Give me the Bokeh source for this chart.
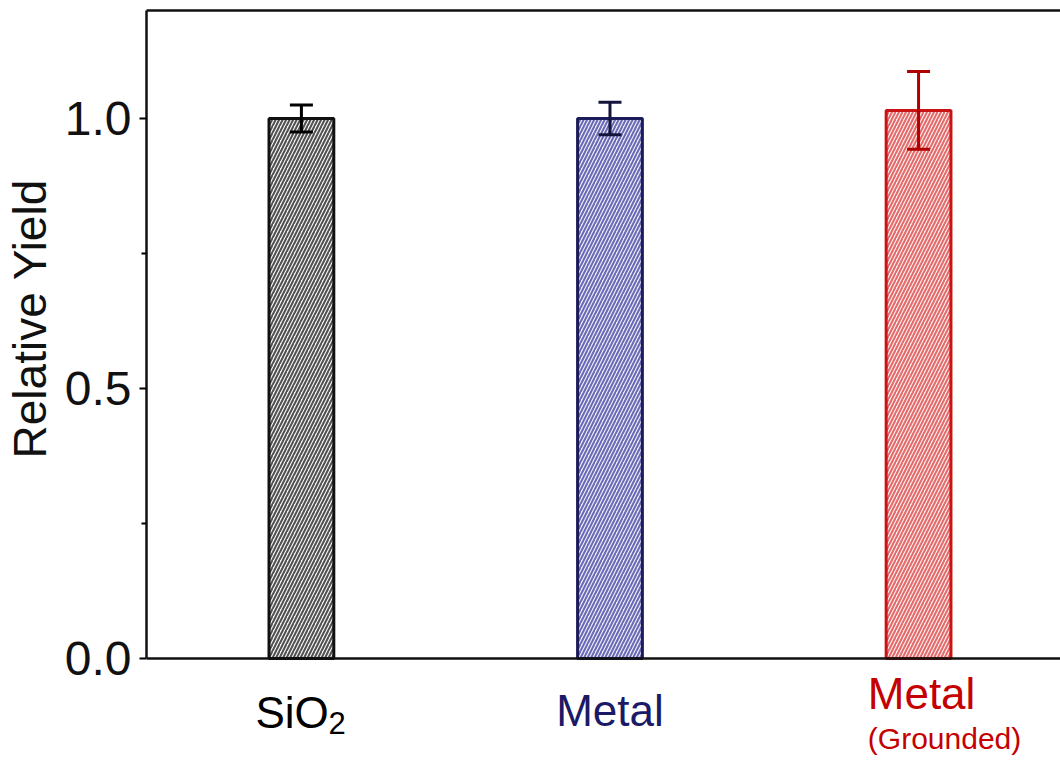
import math
from bokeh.plotting import figure
from bokeh.models import (ColumnDataSource, LinearAxis, FixedTicker, Span,
                          Whisker, TeeHead, Range1d)
from bokeh.core.properties import value
from bokeh.embed import file_html
from bokeh.resources import INLINE

# ---- data ----
categories = ["SiO2", "Metal", "Metal (Grounded)"]
xpos = [1, 2, 3]
yield_values = [1.0, 1.0, 1.015]
yield_errors = [0.025, 0.03, 0.072]
y_ticks = [0.0, 0.5, 1.0]
y_tick_labels = ["0.0", "0.5", "1.0"]
y_minor_ticks = [0.25, 0.75]

# category label pieces
label_texts = ["SiO", "2", "Metal", "Metal", "(Grounded)"]
label_cat = [0, 0, 1, 2, 2]

outline_colors = ["#111111", "#1c1c5a", "#c81414"]
fill_colors = ["#f4f4f4", "#eeeefa", "#fdeeee"]
hatch_colors = ["#505050", "#6a6ab4", "#e46a6a"]
err_colors = ["#000000", "#14143c", "#b00000"]
label_colors = ["#000000", "#1a1a66", "#c40000"]

FONT = "Liberation Sans"

Y_BOTTOM = -0.2019
p = figure(width=1060, height=767, output_backend="svg", toolbar_location=None,
           x_range=Range1d(0.498, 3.46), y_range=Range1d(Y_BOTTOM, 1.2),
           min_border_left=145, min_border_top=10, min_border_right=0,
           min_border_bottom=0)
p.outline_line_color = None
p.grid.visible = False
p.background_fill_color = "white"
p.xaxis.visible = False

src = ColumnDataSource(dict(x=xpos, top=yield_values, lc=outline_colors,
                            fc=fill_colors, hc=hatch_colors))

p.vbar(x="x", top="top", bottom=0, width=0.21, source=src,
       fill_color="fc", line_color="lc", line_width=3,
       hatch_pattern="/", hatch_color="hc", hatch_scale=7, hatch_weight=2.0)

for i in range(3):
    s = ColumnDataSource(dict(base=[xpos[i]], upper=[yield_values[i] + yield_errors[i]],
                              lower=[yield_values[i] - yield_errors[i]]))
    w = Whisker(base="base", upper="upper", lower="lower", source=s,
                dimension="height", line_color=err_colors[i], line_width=3,
                level="overlay",
                upper_head=TeeHead(size=23, line_color=err_colors[i], line_width=3),
                lower_head=TeeHead(size=23, line_color=err_colors[i], line_width=3))
    p.add_layout(w)

# x axis line at y = 0
p.add_layout(Span(location=0, dimension="width", line_color="#111111", line_width=2.5))

# y axis
ya = p.yaxis[0]
ya.bounds = (0, 1.2)
ya.ticker = FixedTicker(ticks=y_ticks, minor_ticks=y_minor_ticks)
ya.major_label_overrides = {t: l for t, l in zip(y_ticks, y_tick_labels)}
ya.major_label_text_font = FONT
ya.major_label_text_font_size = "48px"
ya.major_label_text_color = "#111111"
ya.major_tick_in = 0
ya.major_tick_out = 7
ya.minor_tick_in = 0
ya.minor_tick_out = 5
ya.major_tick_line_width = 2
ya.minor_tick_line_width = 2
ya.axis_line_width = 2.5
ya.axis_line_color = "#111111"
ya.major_label_standoff = 8
ya.axis_label = "\u00a0" * 11 + "Relative Yield"
ya.axis_label_text_font = FONT
ya.axis_label_text_font_size = "46px"
ya.axis_label_text_font_style = "normal"
ya.axis_label_text_color = "#111111"
ya.axis_label_standoff = 6

# top border
top_axis = LinearAxis(ticker=FixedTicker(ticks=[]), axis_line_width=2.5,
                      axis_line_color="#111111", major_tick_line_color=None,
                      minor_tick_line_color=None)
p.add_layout(top_axis, "above")

# category labels (inside the extended frame, below y = 0)
lab_x = [xpos[c] for c in label_cat]
lab_y = [-0.100, -0.1204, -0.0963, -0.0648, -0.148]
lab_xoff = [-46, 27, 0, 3, 26]
lab_align = ["left", "left", "center", "center", "center"]
lab_size = ["44px", "31px", "44px", "44px", "30px"]
lab_color = [label_colors[c] for c in label_cat]
lsrc = ColumnDataSource(dict(x=lab_x, y=lab_y, text=label_texts, xoff=lab_xoff,
                             align=lab_align, size=lab_size, color=lab_color))
p.text(x="x", y="y", text="text", x_offset="xoff", text_align="align",
       text_font_size="size", text_color="color", text_baseline="alphabetic",
       text_font=value(FONT), source=lsrc)

open("out.html", "w").write(file_html(p, INLINE))
